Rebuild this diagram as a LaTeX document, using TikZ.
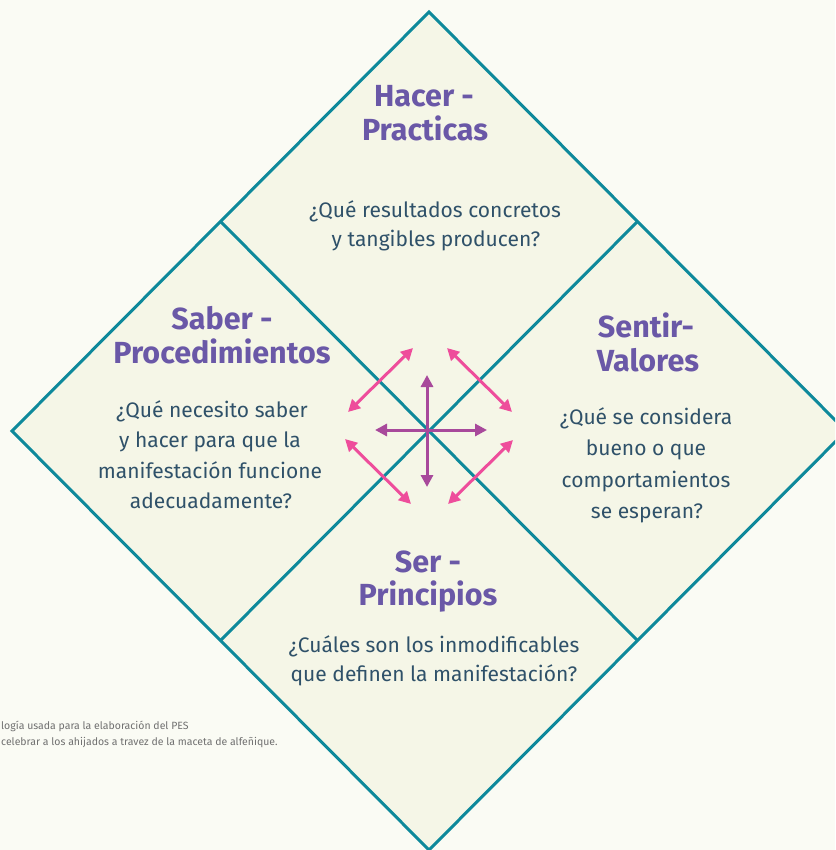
\documentclass[tikz,border=0pt]{standalone}
\usepackage{fontspec}
\setmainfont{Fira Sans}
\usetikzlibrary{arrows.meta}
\definecolor{bgc}{HTML}{FAFBF4}
\definecolor{fillc}{HTML}{F5F6E7}
\definecolor{tealc}{HTML}{0E899B}
\definecolor{titlec}{HTML}{6A58A7}
\definecolor{bodyc}{HTML}{2F5169}
\definecolor{pinkc}{HTML}{EE4D9B}
\definecolor{purplec}{HTML}{A8499B}
\definecolor{notec}{HTML}{707070}
\tikzset{
  edge/.style={draw=tealc,line width=3pt,line join=miter},
  ttl/.style={anchor=base,inner sep=0pt,text=titlec,font=\fontsize{30.5}{34}\selectfont\bfseries},
  bdy/.style={anchor=base,inner sep=0pt,text=bodyc,font=\fontsize{21}{27}\selectfont},
  note/.style={anchor=base west,inner sep=0pt,text=notec,font=\fontsize{10.5}{16}\selectfont},
  parrow/.style={pinkc,line width=3pt,{Triangle[length=12pt,width=12pt]}-{Triangle[length=12pt,width=12pt]}},
  varrow/.style={purplec,line width=3pt,{Triangle[length=12pt,width=12pt]}-{Triangle[length=12pt,width=12pt]}}
}
\begin{document}
\begin{tikzpicture}[x=1pt,y=-1pt]
\fill[bgc] (0,0) rectangle (835,850);
\useasboundingbox (0,0) rectangle (835,850);
\clip (0,0) rectangle (835,850);
\coordinate (T) at (429,12);
\coordinate (L) at (12,431);
\coordinate (R) at (846,431);
\coordinate (B) at (429,850);
\coordinate (UL) at (220.5,221.5);
\coordinate (UR) at (637.5,221.5);
\coordinate (LL) at (220.5,640.5);
\coordinate (LR) at (637.5,640.5);
\path[edge,fill=fillc] (T) -- (R) -- (B) -- (L) -- cycle;
\draw[edge] (UL) -- (LR);
\draw[edge] (UR) -- (LL);
% arrows
\coordinate (a1) at (348,412); \coordinate (a2) at (413,348);
\coordinate (b1) at (447,348); \coordinate (b2) at (512,412);
\coordinate (c1) at (345,439); \coordinate (c2) at (411,504);
\coordinate (d1) at (448,504); \coordinate (d2) at (513,440);
\coordinate (v1) at (427,375); \coordinate (v2) at (427,487);
\coordinate (h1) at (375,430); \coordinate (h2) at (487,430);
\draw[parrow] (a1) -- (a2);
\draw[parrow] (b1) -- (b2);
\draw[parrow] (c1) -- (c2);
\draw[parrow] (d1) -- (d2);
\draw[varrow] (v1) -- (v2);
\draw[varrow] (h1) -- (h2);
% top
\node[ttl] (t1) at (424,107) {Hacer -};
\node[ttl] (t2) at (425,141) {Practicas};
\node[bdy] (tb1) at (435,218) {¿Qué resultados concretos};
\node[bdy] (tb2) at (436,246) {y tangibles producen?};
% left
\node[ttl] (l1) at (222,329) {Saber -};
\node[ttl] (l2) at (222,363) {Procedimientos};
\node[bdy] (lb1) at (212,417) {¿Qué necesito saber};
\node[bdy] (lb2) at (210,447) {y hacer para que la};
\node[bdy] (lb3) at (210,478) {manifestación funcione};
\node[bdy] (lb4) at (211,508) {adecuadamente?};
% right
\node[ttl] (r1) at (646,337) {Sentir-};
\node[ttl] (r2) at (648,371) {Valores};
\node[bdy] (rb1) at (646,424) {¿Qué se considera};
\node[bdy] (rb2) at (646,455) {bueno o que};
\node[bdy] (rb3) at (646,487) {comportamientos};
\node[bdy] (rb4) at (647,518) {se esperan?};
% bottom
\node[ttl] (s1) at (428,572) {Ser -};
\node[ttl] (s2) at (428,605) {Principios};
\node[bdy] (sb1) at (434,652) {¿Cuáles son los inmodificables};
\node[bdy] (sb2) at (434,681) {que definen la manifestación?};
% note
\node[note] (n1) at (1,729) {logía usada para la elaboración del PES};
\node[note] (n2) at (1,745) {celebrar a los ahijados a travez de la maceta de alfeñique.};
\end{tikzpicture}
\end{document}
